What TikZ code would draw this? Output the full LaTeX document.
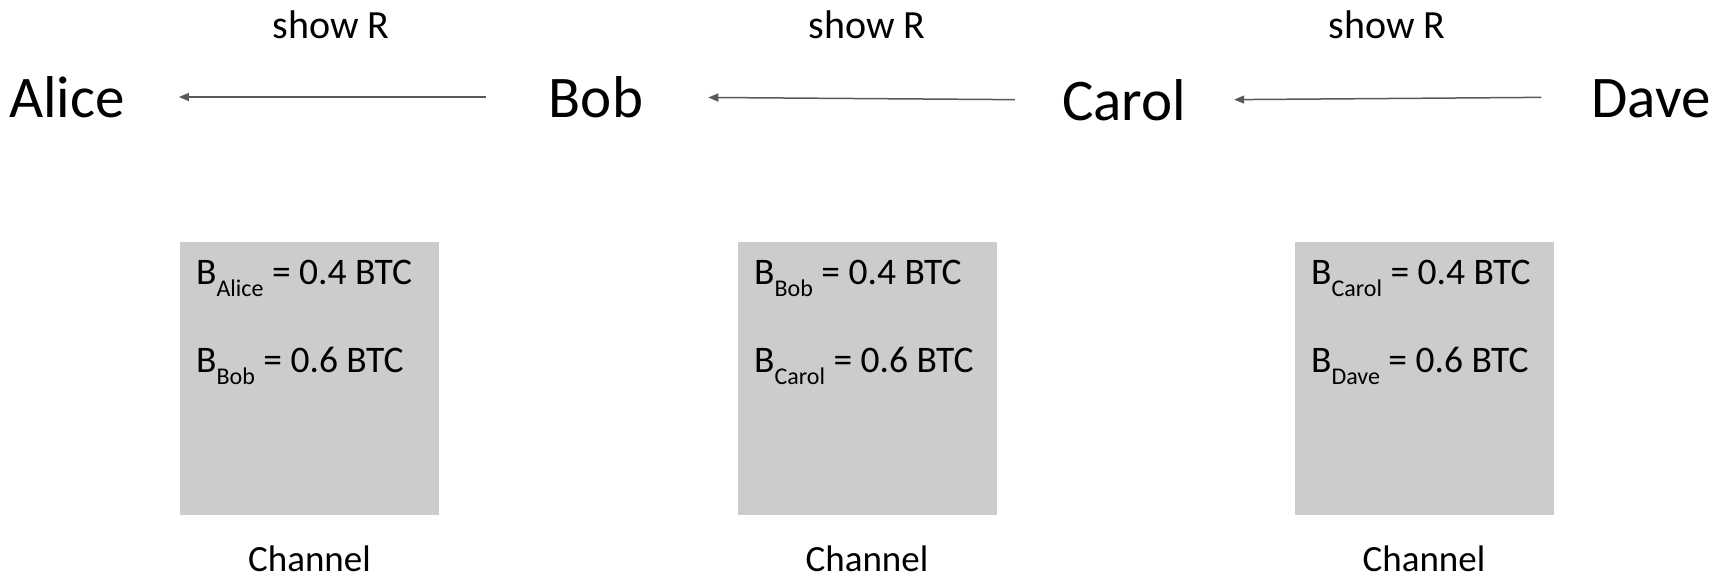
\documentclass[tikz,border=0pt]{standalone}
\usepackage{fontspec}
\setmainfont{Carlito}
\usetikzlibrary{arrows.meta}
\definecolor{boxgray}{HTML}{CCCCCC}
\definecolor{arrgray}{HTML}{595959}
\newcommand{\subtxt}[1]{\raisebox{-12pt}{\fontsize{24}{26}\selectfont #1}}
\begin{document}
\begin{tikzpicture}[x=1pt,y=-1pt,
  party/.style={anchor=base, inner sep=0pt, font=\fontsize{59}{64}\selectfont, text height=42pt, text depth=0pt},
  showlbl/.style={anchor=base, inner sep=0pt, font=\fontsize{40}{44}\selectfont},
  chanbox/.style={fill=boxgray, draw=none, minimum width=259pt, minimum height=273pt, inner sep=0pt},
  baltxt/.style={anchor=base west, inner sep=0pt, font=\fontsize{37.5}{40}\selectfont},
  chanlbl/.style={anchor=base, inner sep=0pt, font=\fontsize{37}{40}\selectfont, text depth=0pt},
  arr/.style={draw=arrgray, line width=1.5pt, -{Triangle[length=10pt,width=8pt]}}
]
\useasboundingbox (0,0) rectangle (1714,577);

% parties
\node[party] (alice) at (67,118) {Alice};
\node[party] (bob)   at (596,118) {Bob};
\node[party] (carol) at (1124,121) {Carol};
\node[party] (dave)  at (1651,118) {Dave};

% arrows
\draw[arr, shorten <=63pt, shorten >=54pt] (bob.west) -- (alice.east);
\draw[arr, shorten <=47pt, shorten >=65pt] (carol.west) -- (bob.east);
\draw[arr, shorten <=50pt, shorten >=48pt] (dave.west) -- (carol.east);

% show R labels
\node[showlbl] (s1) at (331,39) {show R};
\node[showlbl] (s2) at (867,39) {show R};
\node[showlbl] (s3) at (1387,39) {show R};

% channel boxes
\node[chanbox] (ch1) at (309.5,378.5) {};
\node[chanbox] (ch2) at (867,378.5) {};
\node[chanbox] (ch3) at (1424,378.5) {};

% balances
\node[baltxt] (b1a) at (196,285) {B\subtxt{Alice} = 0.4 BTC};
\node[baltxt] (b1b) at (196,373) {B\subtxt{Bob} = 0.6 BTC};
\node[baltxt] (b2a) at (754,285) {B\subtxt{Bob} = 0.4 BTC};
\node[baltxt] (b2b) at (754,373) {B\subtxt{Carol} = 0.6 BTC};
\node[baltxt] (b3a) at (1311,285) {B\subtxt{Carol} = 0.4 BTC};
\node[baltxt] (b3b) at (1311,373) {B\subtxt{Dave} = 0.6 BTC};

% channel labels
\node[chanlbl] (c1) at (309.5,571) {Channel};
\node[chanlbl] (c2) at (867,571) {Channel};
\node[chanlbl] (c3) at (1424,571) {Channel};
\end{tikzpicture}
\end{document}
